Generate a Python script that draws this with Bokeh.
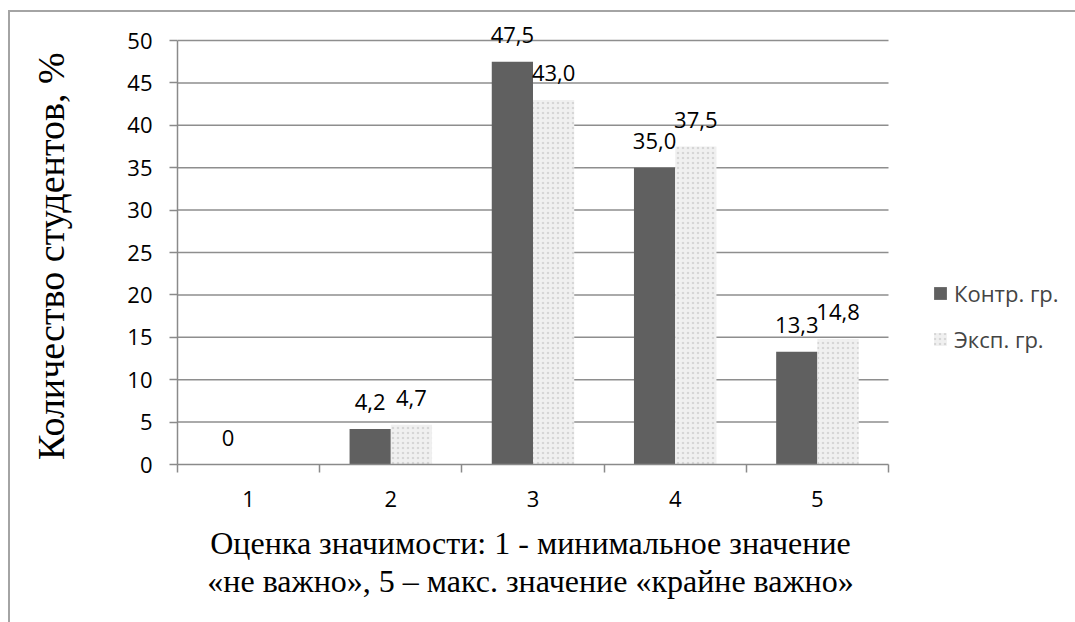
from bokeh.plotting import figure
from bokeh.models import (ColumnDataSource, FixedTicker, LabelSet, Legend, LegendItem)
from bokeh.core.properties import value
from bokeh.embed import file_html
from bokeh.resources import INLINE
import numpy as np

# ---- data ----
categories = ["1", "2", "3", "4", "5"]
kontr = [0.0, 4.2, 47.5, 35.0, 13.3]
eksp = [0.0, 4.7, 43.0, 37.5, 14.8]
kontr_labels = ["0", "4,2", "47,5", "35,0", "13,3"]
eksp_labels = ["", "4,7", "43,0", "37,5", "14,8"]
y_ticks = [0, 5, 10, 15, 20, 25, 30, 35, 40, 45, 50]
series_names = ["Контр. гр.", "Эксп. гр."]
y_title = "Количество студентов, %"
x_title_lines = ["Оценка значимости: 1 - минимальное значение",
                 "«не важно», 5 – макс. значение «крайне важно»"]

n = len(categories)
pos = np.arange(1, n + 1)
bw = 0.29

src_k = ColumnDataSource(dict(x=pos - bw / 2, top=kontr, lab=kontr_labels))
src_e = ColumnDataSource(dict(x=pos + bw / 2, top=eksp, lab=eksp_labels))

GRID = "#8e8e8e"
AX = "#8a8a8a"
BORDER = "#a4a4a4"

# frame spans the right part of the canvas (so that legend and labels are not clipped);
# category axis occupies 0.5 .. 5.5, the rest is room for the legend
p = figure(width=1075, height=622, output_backend="svg", toolbar_location=None,
           x_range=(0.5, 6.815), y_range=(0, 54.72),
           min_border_left=177, min_border_right=0, min_border_top=0,
           min_border_bottom=158, outline_line_color=None,
           background_fill_alpha=0, border_fill_alpha=0)
p.styles = {
    "background": (f"linear-gradient({BORDER},{BORDER}) 8px 10px / 2px 100% no-repeat, "
                   f"linear-gradient({BORDER},{BORDER}) 8px 10px / 100% 2px no-repeat, white"),
}

# grid lines (only across the category area)
p.xgrid.visible = False
p.ygrid.visible = False
p.segment(x0=0.5, x1=n + 0.5, y0=y_ticks[1:], y1=y_ticks[1:], line_color=GRID,
          line_width=1.5)

rk = p.vbar(x="x", top="top", width=bw, source=src_k, fill_color="#606060",
            line_color=None)
re_ = p.vbar(x="x", top="top", width=bw, source=src_e, fill_color="#f0f0f0",
             line_color=None, hatch_pattern="dot", hatch_color="#d6d6d6",
             hatch_scale=5, hatch_weight=2)

# y axis
p.yaxis.bounds = (y_ticks[0], y_ticks[-1])
p.yaxis.ticker = FixedTicker(ticks=y_ticks)
p.yaxis.axis_line_color = AX
p.yaxis.axis_line_width = 1.5
p.yaxis.major_tick_line_color = AX
p.yaxis.major_tick_line_width = 1.5
p.yaxis.major_tick_out = 8
p.yaxis.major_tick_in = 0
p.yaxis.minor_tick_line_color = None
p.yaxis.major_label_standoff = 17
p.yaxis.major_label_text_font = "Open Sans"
p.yaxis.major_label_text_font_size = "22px"
p.yaxis.major_label_text_color = "black"
# trailing spaces move the rotated title down to the centre of the value axis
p.yaxis.axis_label = y_title + "\u2002\u2002\u2005"
p.yaxis.axis_label_text_font = "Liberation Serif"
p.yaxis.axis_label_text_font_size = "38px"
p.yaxis.axis_label_text_font_style = "normal"
p.yaxis.axis_label_text_color = "black"
p.yaxis.axis_label_standoff = 52

# x axis
p.xaxis.bounds = (0.5, n + 0.5)
p.xaxis.ticker = FixedTicker(ticks=list(pos), minor_ticks=list(np.append(pos - 0.5, pos[-1] + 0.5)))
p.xaxis.major_label_overrides = {int(v): c for v, c in zip(pos, categories)}
p.xaxis.axis_line_color = AX
p.xaxis.axis_line_width = 1.5
p.xaxis.major_tick_line_color = None
p.xaxis.major_tick_out = 0
p.xaxis.major_tick_in = 0
p.xaxis.minor_tick_line_color = AX
p.xaxis.minor_tick_line_width = 1.5
p.xaxis.minor_tick_out = 8
p.xaxis.minor_tick_in = 0
p.xaxis.major_label_standoff = 18
p.xaxis.major_label_text_font = "Open Sans"
p.xaxis.major_label_text_font_size = "22px"
p.xaxis.major_label_text_color = "black"
# trailing en spaces shift the centred title over the category area
pad = "\u2002" * 12
p.xaxis.axis_label = "\n".join(line + pad for line in x_title_lines)
p.xaxis.axis_label_text_font = "Liberation Serif"
p.xaxis.axis_label_text_font_size = "32px"
p.xaxis.axis_label_text_font_style = "normal"
p.xaxis.axis_label_text_color = "black"
p.xaxis.axis_label_text_line_height = 1.06
p.xaxis.axis_label_standoff = 15

# data labels
for src in (src_k, src_e):
    p.add_layout(LabelSet(x="x", y="top", text="lab", source=src, text_align="center",
                          text_baseline="middle", y_offset=27, text_font=value("Open Sans"),
                          text_font_size="22px", text_color="black"))

# legend
legend = Legend(items=[LegendItem(label=series_names[0], renderers=[rk]),
                       LegendItem(label=series_names[1], renderers=[re_])],
                location=(755, 110), orientation="vertical",
                glyph_width=16, glyph_height=16, label_height=22,
                label_text_font="Open Sans", label_text_font_size="22px",
                label_standoff=6, spacing=16, padding=0, margin=0,
                border_line_color=None, background_fill_alpha=0)
p.add_layout(legend, "center")

open("out.html", "w").write(file_html(p, INLINE))
